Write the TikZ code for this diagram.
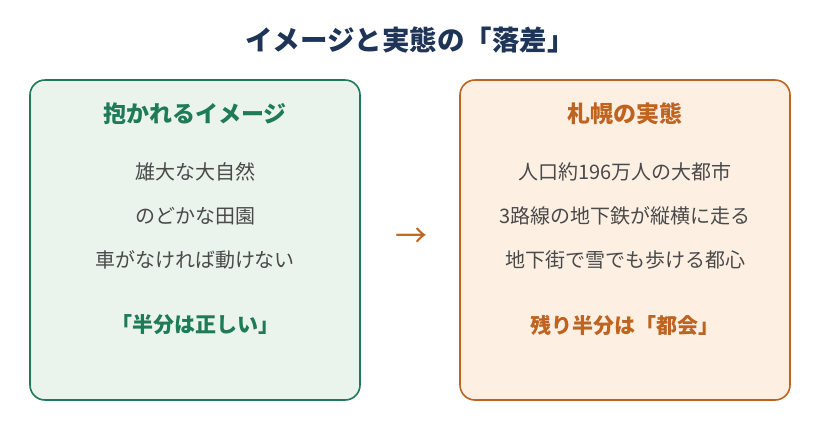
\documentclass[tikz,border=0pt]{standalone}
\usepackage{fontspec}
\newfontfamily\cjk{Noto Sans CJK JP}
\definecolor{navy}{HTML}{1F3558}
\definecolor{grn}{HTML}{1F7A58}
\definecolor{grnfill}{HTML}{EAF3EC}
\definecolor{org}{HTML}{BF6320}
\definecolor{orgfill}{HTML}{FDF0E3}
\definecolor{txt}{HTML}{4A4A4A}
\tikzset{
  panel/.style={rounded corners=15pt, line width=1.6pt, minimum width=330pt, minimum height=320pt, inner sep=0pt},
  head/.style={font=\cjk\fontsize{23}{27}\selectfont\bfseries},
  summ/.style={font=\cjk\fontsize{21}{25}\selectfont\bfseries},
  item/.style={font=\cjk\fontsize{20}{24}\selectfont, text=txt},
}
\begin{document}
\begin{tikzpicture}[x=1pt,y=-1pt]
\useasboundingbox[fill=white] (0,0) rectangle (820,440);
\node[font=\cjk\fontsize{27.5}{32}\selectfont\bfseries, text=navy] (title) at (410,40) {イメージと実態の「落差」};
\node[panel, draw=grn, fill=grnfill] (left) at (195,240) {};
\node[panel, draw=org, fill=orgfill] (right) at (625,240) {};
\node[head, text=grn] (lh) at (195,114) {抱かれるイメージ};
\node[item] (l1) at (195,172) {雄大な大自然};
\node[item] (l2) at (195,216) {のどかな田園};
\node[item] (l3) at (195,260) {車がなければ動けない};
\node[summ, text=grn] (ls) at (195,325) {「半分は正しい」};
\node[head, text=org] (rh) at (625,114) {札幌の実態};
\node[item] (r1) at (625,172) {人口約196万人の大都市};
\node[item] (r2) at (625,216) {3路線の地下鉄が縦横に走る};
\node[item] (r3) at (625,260) {地下街で雪でも歩ける都心};
\node[summ, text=org] (rs) at (625,325) {残り半分は「都会」};
\node[font=\cjk\fontsize{32}{36}\selectfont, text=org] (arr) at (411,238) {→};
\end{tikzpicture}
\end{document}
